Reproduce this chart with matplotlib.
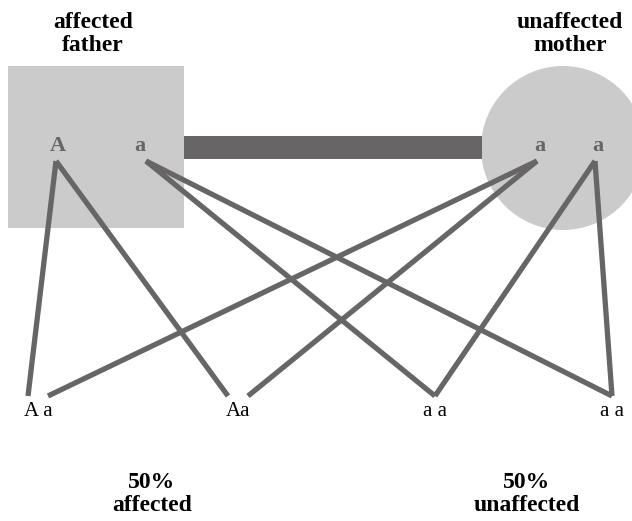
import matplotlib.pyplot as plt
from matplotlib.patches import Rectangle, Circle

# parents and their alleles
father_alleles = ["A", "a"]
mother_alleles = ["a", "a"]
father_allele_x = [58, 140]
mother_allele_x = [540, 598]
allele_y = 146

# children genotypes
children = ["A a", "Aa", "a a", "a a"]
child_x = [38, 238, 435, 612]
child_y = 411

# which allele each child gets (father allele idx, mother allele idx)
child_from_father = [0, 0, 1, 1]
child_from_mother = [0, 0, 1, 1]

summary_labels = ["50%\naffected", "50%\nunaffected"]
summary_x = [152, 527]

line_col = "#676566"
fill_col = "#cbcbcb"

plt.rcParams["font.family"] = ["Liberation Serif", "DejaVu Serif"]

fig = plt.figure(figsize=(6.32, 5.21), dpi=100)
ax = fig.add_axes([0, 0, 1, 1])
ax.set_xlim(0, 632)
ax.set_ylim(521, 0)
ax.axis("off")

# father square and mother circle
ax.add_patch(Rectangle((8, 66), 176, 162, facecolor=fill_col, edgecolor="none", zorder=1))
ax.add_patch(Circle((563, 148), 82, facecolor=fill_col, edgecolor="none", zorder=1))
# marriage bar
ax.add_patch(Rectangle((184, 136), 298, 23, facecolor=line_col, edgecolor="none", zorder=2))

ax.text(93, 34, "affected\nfather", ha="center", va="center", fontsize=17,
        fontweight="bold", linespacing=1.15)
ax.text(570, 34, "unaffected\nmother", ha="center", va="center", fontsize=17,
        fontweight="bold", linespacing=1.15)

for x, al in zip(father_allele_x, father_alleles):
    ax.text(x, allele_y, al, ha="center", va="center", fontsize=16,
            fontweight="bold", color="#666", zorder=3)
for x, al in zip(mother_allele_x, mother_alleles):
    ax.text(x, allele_y, al, ha="center", va="center", fontsize=16,
            fontweight="bold", color="#666", zorder=3)

# inheritance lines
for i, cx in enumerate(child_x):
    fx = father_allele_x[child_from_father[i]] + (-2 if child_from_father[i] == 0 else 6)
    mx = mother_allele_x[child_from_mother[i]] - 3
    off = 10 if i < 2 else 0
    ax.plot([fx, cx - off], [161, 396], color=line_col, lw=3.8, solid_capstyle="butt", zorder=2)
    ax.plot([mx, cx + off], [161, 396], color=line_col, lw=3.8, solid_capstyle="butt", zorder=2)

for x, c in zip(child_x, children):
    ax.text(x, child_y, c, ha="center", va="center", fontsize=15)

for x, s in zip(summary_x, summary_labels):
    ax.text(x, 494, s, ha="center", va="center", fontsize=17,
            fontweight="bold", linespacing=1.15)

fig.savefig("out.png", dpi=100)
